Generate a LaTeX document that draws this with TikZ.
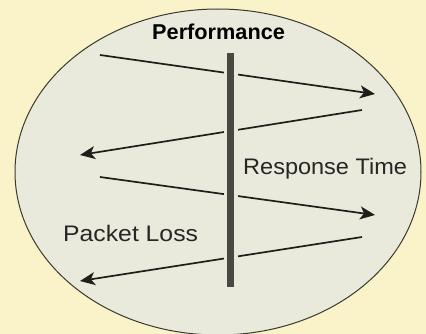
\documentclass[tikz,border=0pt]{standalone}
\usepackage{fontspec}
\setmainfont{Liberation Sans}
\usetikzlibrary{arrows.meta,shapes.geometric}
\definecolor{bgyel}{HTML}{FAF2C8}
\definecolor{ellfill}{HTML}{E9EADB}
\definecolor{ellline}{HTML}{3A3A30}
\definecolor{barcol}{HTML}{4A4840}
\definecolor{arrcol}{HTML}{1E1E1A}
\tikzset{
  flow/.style={draw=arrcol, line width=1.7pt, -{Stealth[length=15pt,width=13pt,inset=4pt]}},
  lbl/.style={font=\fontsize{22.5}{26}\selectfont, text=black!85, inner sep=0pt, anchor=base west},
}
\begin{document}
\begin{tikzpicture}[x=1pt,y=-1pt]
\useasboundingbox (0,0) rectangle (426,334);
\fill[bgyel] (0,0) rectangle (426,334);
\node[ellipse, draw=ellline, fill=ellfill, line width=1pt, minimum width=406pt, minimum height=326pt, inner sep=0pt] (ell) at (218,172) {};
% arrows
\coordinate (a1s) at (100,55);
\coordinate (a1e) at (375,94);
\coordinate (a2s) at (362,110);
\coordinate (a2e) at (80,155);
\coordinate (a3s) at (100,177);
\coordinate (a3e) at (375,215);
\coordinate (a4s) at (362,237);
\coordinate (a4e) at (80,281);
\draw[flow] (a1s) -- (a1e);
\draw[flow] (a2s) -- (a2e);
\draw[flow] (a3s) -- (a3e);
\draw[flow] (a4s) -- (a4e);
% bar with gap
\coordinate (bt) at (230.5,53);
\coordinate (bb) at (230.5,287);
\draw[ellfill, line width=14pt] (bt) -- (bb);
\draw[barcol, line width=7.5pt] (bt) -- (bb);
\node[lbl, font=\bfseries\fontsize{21.5}{24}\selectfont, text=black, xscale=1.01] (perf) at (152,40) {Performance};
\node[lbl, xscale=1.045] (rt) at (243,175) {Response Time};
\node[lbl, xscale=1.1] (pl) at (63,241) {Packet Loss};
\end{tikzpicture}
\end{document}
